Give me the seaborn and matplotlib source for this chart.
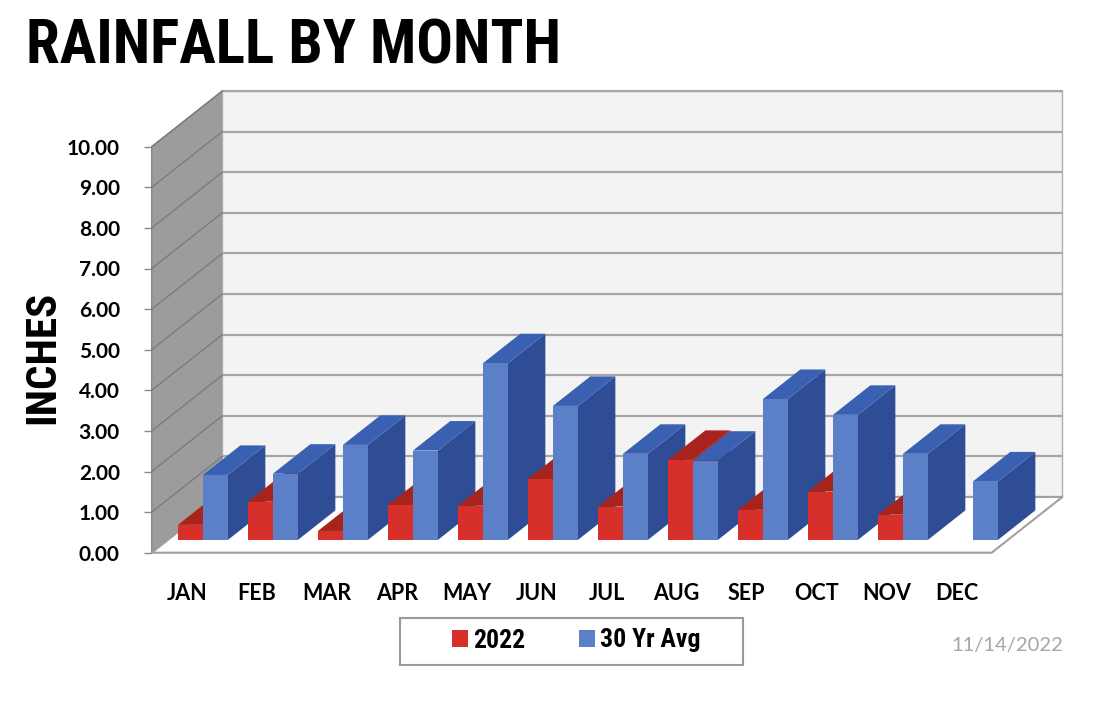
import matplotlib
matplotlib.use("Agg")
import matplotlib.pyplot as plt
from matplotlib.patches import Polygon, Rectangle
from matplotlib.transforms import Affine2D
import numpy as np
import pandas as pd
import seaborn as sns

# values (inches)
months = ["JAN", "FEB", "MAR", "APR", "MAY", "JUN", "JUL", "AUG", "SEP", "OCT", "NOV", "DEC"]
rain_2022 = [0.37, 0.94, 0.22, 0.86, 0.84, 1.50, 0.82, 1.97, 0.74, 1.19, 0.62, 0.0]
avg_30yr = [1.60, 1.63, 2.34, 2.20, 4.35, 3.30, 2.12, 1.95, 3.47, 3.08, 2.12, 1.44]
series = ["2022", "30 Yr Avg"]
y_ticks = np.arange(0, 11)

df = pd.DataFrame({
    "month": months * 2,
    "inches": rain_2022 + avg_30yr,
    "series": [series[0]] * len(months) + [series[1]] * len(months),
})

front_colors = ["#d7302a", "#5b80c8"]
top_colors = ["#a8231c", "#3a60b2"]
side_colors = ["#8e1c16", "#2f4d94"]

sns.set_style("white")
plt.rcParams["font.family"] = ["Lato", "DejaVu Sans"]
plt.rcParams["text.color"] = "black"
plt.rcParams["xtick.color"] = "black"
plt.rcParams["ytick.color"] = "black"
narrow = ["Roboto Condensed", "DejaVu Sans"]

W, H = 1106, 702
fig = plt.figure(figsize=(W / 100, H / 100), dpi=100)
ax = fig.add_axes([151.7 / W, 1 - 552.7 / H, 840 / W, 406 / H])

sns.barplot(data=df, x="month", y="inches", hue="series", palette=front_colors,
            width=0.714, saturation=1, linewidth=0, ax=ax)
ax.set_xlim(-0.5, len(months) - 0.5)
ax.set_ylim(0, 10)

# 3D look: full depth of the box and where the bars sit inside it
DX, DY = 70.6 / 70, 55.7 / 40.6
f0, bd = 0.23, 0.53
sx, sy = f0 * DX, f0 * DY
dx, dy = bd * DX, bd * DY
x_lo, x_hi = -0.5, len(months) - 0.5

# side wall, back wall, floor
ax.add_patch(Polygon([(x_lo, 0), (x_lo + DX, DY), (x_lo + DX, 10 + DY), (x_lo, 10)],
                     facecolor="#9c9c9c", edgecolor="#8a8a8a", lw=1, zorder=1, clip_on=False))
ax.add_patch(Polygon([(x_lo + DX, DY), (x_hi + DX, DY), (x_hi + DX, 10 + DY), (x_lo + DX, 10 + DY)],
                     facecolor="#f3f3f3", edgecolor="#b0b0b0", lw=1, zorder=1, clip_on=False))
for v in y_ticks:
    ax.plot([x_lo + DX, x_hi + DX], [v + DY, v + DY], color="#a6a6a6", lw=1.6,
            zorder=1.2, clip_on=False)
    ax.plot([x_lo, x_lo + DX], [v, v + DY], color="#7c7c7c", lw=1, zorder=1.2, clip_on=False)
ax.add_patch(Polygon([(x_lo, 0), (x_hi, 0), (x_hi + DX, DY), (x_lo + DX, DY)],
                     facecolor="white", edgecolor="#a0a0a0", lw=1.5, zorder=1.5, clip_on=False))

shift = Affine2D().translate(sx, sy) + ax.transData
for h, cont in enumerate(ax.containers[:2]):
    for i, p in enumerate(cont.patches):
        z = 3 + i * 0.1 + h * 0.05
        p.set_transform(shift)
        p.set_zorder(z)
        p.set_clip_on(False)
        hgt = p.get_height()
        if hgt <= 0:
            p.set_visible(False)
            continue
        x0, w = p.get_x() + sx, p.get_width()
        ax.add_patch(Polygon([(x0 + w, sy), (x0 + w + dx, sy + dy), (x0 + w + dx, sy + hgt + dy),
                              (x0 + w, sy + hgt)], facecolor=side_colors[h], lw=0,
                             zorder=z - 0.02, clip_on=False))
        ax.add_patch(Polygon([(x0, sy + hgt), (x0 + w, sy + hgt), (x0 + w + dx, sy + hgt + dy),
                              (x0 + dx, sy + hgt + dy)], facecolor=top_colors[h], lw=0,
                             zorder=z - 0.01, clip_on=False))

for s in ax.spines.values():
    s.set_visible(False)
ax.set_yticks(y_ticks)
ax.set_yticklabels([f"{v:.2f}" for v in y_ticks], fontsize=15, fontweight="bold")
ax.set_xticks(range(len(months)))
ax.set_xticklabels(months, fontsize=15.5, fontweight="bold")
ax.tick_params(axis="y", length=6, width=1, color="#8a8a8a", pad=17, left=True)
ax.tick_params(axis="x", length=0, pad=22)
ax.set_xlabel("")
ax.set_ylabel("")

handles, labels = ax.get_legend_handles_labels()
ax.get_legend().remove()
fig.legend(handles, labels, loc="center", bbox_to_anchor=(576.5 / W, 1 - 640.5 / H), ncol=2,
           frameon=False, handlelength=0.62, handleheight=0.62, handletextpad=0.2,
           columnspacing=2.1, prop={"family": narrow, "weight": "bold", "size": 18.5})
fig.patches.append(Rectangle((400 / W, 1 - 665 / H), 343 / W, 47 / H, transform=fig.transFigure,
                             facecolor="white", edgecolor="#9a9a9a", lw=1.5, zorder=0))

fig.text(26 / W, 1 - 64 / H, "RAINFALL BY MONTH", ha="left", va="baseline", fontsize=44,
         fontweight="bold", family=narrow)
fig.text(43 / W, 1 - 357 / H, "INCHES", ha="center", va="center", rotation=90, fontsize=31,
         fontweight="bold", family=narrow)
fig.text(1063 / W, 1 - 645.5 / H, "11/14/2022", ha="right", va="center", fontsize=14.5,
         color="#a6a6a6")

fig.savefig("out.png", dpi=100)
